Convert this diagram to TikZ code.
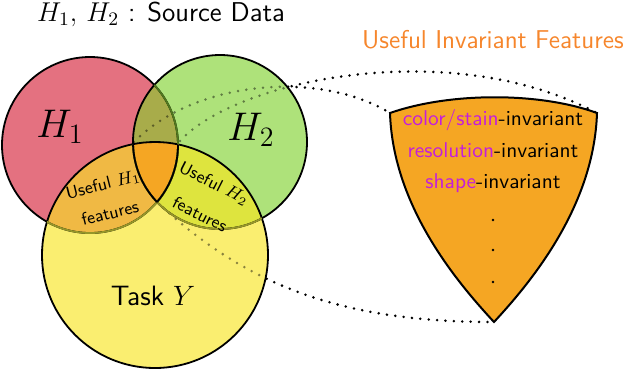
\RequirePackage{fix-cm}
\documentclass[tikz,border=0pt]{standalone}
\usepackage{amsmath}
\usepackage{tikz}
\usetikzlibrary{arrows.meta, positioning}

\definecolor{hred}{RGB}{228,113,128}
\definecolor{hgreen}{RGB}{174,226,122}
\definecolor{tyellow}{RGB}{250,238,112}
\definecolor{redgreen}{RGB}{168,172,74}
\definecolor{redyellow}{RGB}{240,185,68}
\definecolor{greenyellow}{RGB}{222,228,62}
\definecolor{midorange}{RGB}{245,166,35}
\definecolor{titleorange}{RGB}{246,134,44}
\definecolor{invpink}{RGB}{196,30,220}
\definecolor{greenline}{RGB}{80,120,30}
\definecolor{oliveline}{RGB}{150,150,40}

% the three sets
\def\setA{(h1) circle[radius=44pt]}
\def\setB{(h2) circle[radius=43.5pt]}
\def\setY{(ty) circle[radius=56.5pt]}

\begin{document}
\begin{tikzpicture}[x=0.5pt, y=-0.5pt, line width=0.9pt,
    dotline/.style={line width=1.4pt, line cap=round, dash pattern=on 0pt off 4.2pt},
    lbl/.style={font=\fontsize{8.7}{10}\selectfont\sffamily, inner sep=0pt},
    big/.style={font=\fontsize{20}{22}\selectfont},
    inv/.style={font=\fontsize{10.7}{12}\selectfont\sffamily, anchor=base}]
  \useasboundingbox (0,0) rectangle (632,372);

  \coordinate (h1) at (90,145);
  \coordinate (h2) at (220,142);
  \coordinate (ty) at (155,255);
  \coordinate (ctl) at (134,142);
  \coordinate (ctr) at (180,141);
  \coordinate (cbot) at (157,202);
  \coordinate (sl) at (390,113);
  \coordinate (sr) at (597,113);
  \coordinate (stip) at (494,322);

  % zoom lines, under the sets
  \draw[dotline] (ctl) .. controls (195,80) and (320,70) .. (sl);
  \draw[dotline] (ctr) .. controls (235,80) and (450,35) .. (sr);
  \draw[dotline] (cbot) .. controls (250,290) and (350,322) .. (stip);

  % fills
  \fill[hred] \setA;
  \fill[hgreen] \setB;
  \fill[tyellow] \setY;
  \begin{scope} \clip \setA; \fill[redgreen] \setB; \fill[redyellow] \setY; \end{scope}
  \begin{scope} \clip \setB; \fill[greenyellow] \setY; \end{scope}
  \begin{scope} \clip \setA; \clip \setB; \fill[midorange] \setY; \end{scope}

  % zoom lines seen through the sets
  \begin{scope}
    \clip \setA \setB \setY;
    \draw[dotline, draw opacity=0.45] (ctl) .. controls (195,80) and (320,70) .. (sl);
    \draw[dotline, draw opacity=0.45] (ctr) .. controls (235,80) and (450,35) .. (sr);
    \draw[dotline, draw opacity=0.45] (cbot) .. controls (250,290) and (350,322) .. (stip);
  \end{scope}

  % outlines
  \draw \setA; \draw \setB; \draw \setY;
  \begin{scope} \clip \setB; \draw[greenline] \setA; \end{scope}
  \begin{scope} \clip \setY; \draw[oliveline] \setA; \draw[oliveline] \setB; \end{scope}
  \begin{scope} \clip \setY; \clip \setA; \draw \setB; \end{scope}
  \begin{scope} \clip \setY; \clip \setB; \draw \setA; \end{scope}

  % shield
  \draw[fill=midorange, line width=1pt] (sl) .. controls (450,92) and (540,92) .. (sr)
    .. controls (594,205) and (533,280) .. (stip)
    .. controls (455,280) and (393,205) .. (sl) -- cycle;

  % texts
  \node[font=\fontsize{13.6}{15}\selectfont\sffamily] (src) at (161,14) {$H_1,\, H_2$ : Source Data};
  \node[font=\fontsize{12.9}{15}\selectfont\sffamily, text=titleorange] (uif) at (493,40) {Useful Invariant Features};
  \node[big] (lh1) at (60,127) {$H_1$};
  \node[big] (lh2) at (251,130) {$H_2$};
  \node[font=\fontsize{14}{17}\selectfont\sffamily] (task) at (153,296) {Task $Y$};
  \node[lbl, rotate=14] (u1) at (103,185) {Useful $H_1$};
  \node[lbl, rotate=14] (f1) at (110,213) {features};
  \node[lbl, rotate=-27] (u2) at (214,184) {Useful $H_2$};
  \node[lbl, rotate=-27] (f2) at (200,214) {features};
  \node[inv] (i1) at (493,125) {\textcolor{invpink}{color/stain}-invariant};
  \node[inv] (i2) at (493,157) {\textcolor{invpink}{resolution}-invariant};
  \node[inv] (i3) at (493,188) {\textcolor{invpink}{shape}-invariant};
  \foreach \y in {220,250,282} { \fill (493,\y) circle[radius=0.7pt]; }
\end{tikzpicture}
\end{document}
